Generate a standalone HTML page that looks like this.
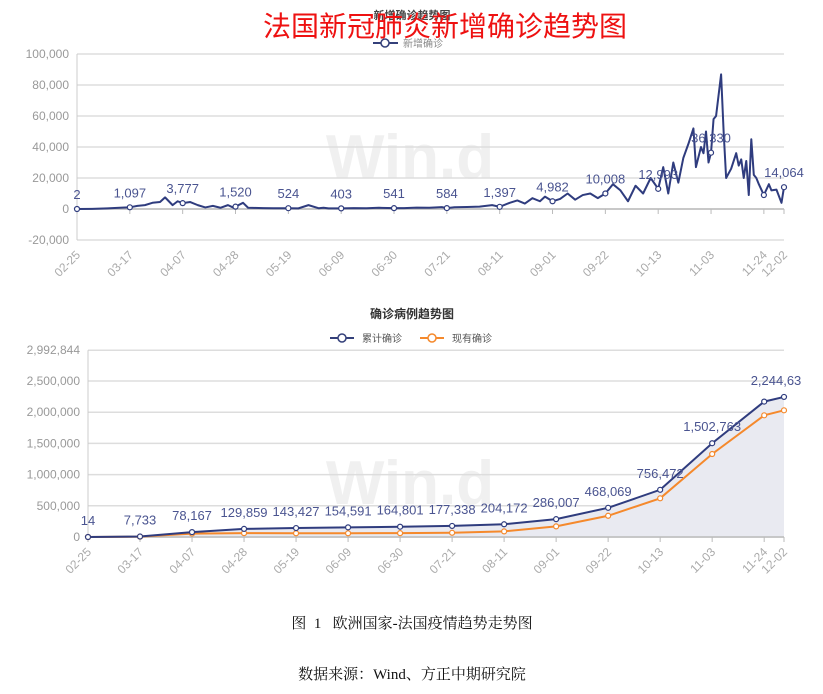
<!DOCTYPE html>
<html><head><meta charset="utf-8"><style>
body{margin:0;background:#fff;}
svg{display:block;font-family:"Liberation Sans","Noto Sans CJK SC",sans-serif;}
</style></head><body>
<svg id="s" width="823" height="694" viewBox="0 0 823 694">
<text x="412" y="19" text-anchor="middle" font-size="11" font-weight="bold" fill="#444">新增确诊趋势图</text>
<text x="445" y="36" text-anchor="middle" font-size="28" fill="#ee1111">法国新冠肺炎新增确诊趋势图</text>
<g><line x1="373" y1="43" x2="398" y2="43" stroke="#34407a" stroke-width="2"/><circle cx="385" cy="43" r="4" fill="#fff" stroke="#34407a" stroke-width="1.5"/><text x="403" y="47" font-size="10" fill="#888">新增确诊</text></g>
<text x="410" y="178" text-anchor="middle" font-size="62" font-weight="bold" fill="#f0f0f0">Win.d</text>
<text x="410" y="504" text-anchor="middle" font-size="62" font-weight="bold" fill="#f0f0f0">Win.d</text>
<g id="topg"></g>
<text x="412" y="318" text-anchor="middle" font-size="12" font-weight="bold" fill="#333">确诊病例趋势图</text>
<g><line x1="330" y1="338" x2="354" y2="338" stroke="#34407a" stroke-width="2"/><circle cx="342" cy="338" r="4" fill="#fff" stroke="#34407a" stroke-width="1.5"/><text x="362" y="342" font-size="10" fill="#555">累计确诊</text></g>
<g><line x1="420" y1="338" x2="444" y2="338" stroke="#f5892c" stroke-width="2"/><circle cx="432" cy="338" r="4" fill="#fff" stroke="#f5892c" stroke-width="1.5"/><text x="452" y="342" font-size="10" fill="#555">现有确诊</text></g>
<g id="botg"></g>
<text x="412" y="628" text-anchor="middle" font-size="15" style="white-space:pre" font-family="Liberation Serif,'Noto Serif CJK SC',serif" fill="#111">图  1   欧洲国家-法国疫情趋势走势图</text>
<text x="412" y="679" text-anchor="middle" font-size="15" font-family="Liberation Serif,'Noto Serif CJK SC',serif" fill="#111">数据来源：Wind、方正中期研究院</text>
</svg>
<script>
const tickLabels=["02-25","03-17","04-07","04-28","05-19","06-09","06-30","07-21","08-11","09-01","09-22","10-13","11-03","11-24","12-02"];
const tickDays=[0,21,42,63,84,105,126,147,168,189,210,231,252,273,281];
const newDays=[0,6,12,18,21,24,27,30,33,35,38,40,42,45,48,51,54,57,60,62,63,66,68,70,74,78,84,88,92,96,98,100,105,110,115,120,126,130,135,140,145,147,150,155,160,165,168,172,175,178,181,184,186,189,192,195,198,201,204,207,210,213,216,219,222,225,228,231,233,235,237,239,241,243,245,246,248,249,250,251,252,253,254,256,257,258,260,262,263,264,265,266,267,268,269,270,271,273,275,276,278,280,281];
const newVals=[2,100,400,900,1097,2000,2500,4000,4500,7500,2500,5000,3777,4500,2500,1000,2000,800,2500,1000,1520,4000,800,700,600,500,524,400,2500,500,800,400,403,600,500,800,541,600,900,800,1200,584,1100,1300,1500,2500,1397,4000,5500,3500,7000,5000,8000,4982,6500,10000,6000,9000,10000,7000,10008,16000,12000,5000,15000,10000,20000,12993,27000,10000,30000,17000,33000,42000,52000,27000,40000,36000,50000,30000,36330,58000,60000,86852,50000,20000,26000,36000,28000,32000,20000,31000,9000,45000,22000,20000,16000,9000,16000,12000,12500,4000,14064];
const cumVals=[14,7733,78167,129859,143427,154591,164801,177338,204172,286007,468069,756472,1502763,2170000,2244635];
const cumLabels=["14","7,733","78,167","129,859","143,427","154,591","164,801","177,338","204,172","286,007","468,069","756,472","1,502,763","","2,244,63"];
const actVals=[12,6000,55000,62000,60000,60000,62000,68000,90000,170000,340000,620000,1330000,1950000,2030000];
const topYTicks=[100000,80000,60000,40000,20000,0,-20000];
const botYTicks=[2992844,2500000,2000000,1500000,1000000,500000,0];
const NS="http://www.w3.org/2000/svg";
function mk(p,t,a){const e=document.createElementNS(NS,t);for(const k in a)e.setAttribute(k,a[k]);p.appendChild(e);return e;}
function fmt(v){return v.toLocaleString("en-US");}
const tX0=77,tX1=784;
const tx=d=>tX0+(tX1-tX0)*d/281;
const ty=v=>209-v*31/20000;
const gTop=document.getElementById('topg');
topYTicks.forEach(v=>{
 const l=mk(gTop,'line',{x1:tX0,x2:tX1,y1:ty(v),y2:ty(v),stroke:'#ddd','stroke-width':1.5});
 
 
 const t=mk(gTop,'text',{x:tX0-8,y:ty(v)+4,'text-anchor':'end','font-size':12,fill:'#999'});t.textContent=fmt(v);
 
 
});
mk(gTop,'line',{x1:tX0,x2:tX0,y1:ty(100000),y2:ty(-20000),stroke:'#ccc'});
mk(gTop,'line',{x1:tX0,x2:tX1,y1:ty(0),y2:ty(0),stroke:'#bbb','stroke-width':1.5});
tickDays.forEach((d,i)=>{
 mk(gTop,'line',{x1:tx(d),x2:tx(d),y1:ty(0),y2:ty(0)+5,stroke:'#bbb'});
 const t=mk(gTop,'text',{x:tx(d),y:ty(-20000)+14,'text-anchor':'end','font-size':12,fill:'#aaa',transform:`rotate(-45 ${tx(d)+4} ${ty(-20000)+10})`});
 t.textContent=tickLabels[i];
 
 
});
const tl=mk(gTop,'polyline',{points:newDays.map((d,i)=>tx(d)+','+ty(newVals[i])).join(' '),fill:'none',stroke:'#2f3c7e','stroke-width':2,'stroke-linejoin':'round'});


tickDays.forEach(d=>{
 const k=newDays.indexOf(d);if(k<0)return;
 const v=newVals[k];
 const c=mk(gTop,'circle',{cx:tx(d),cy:ty(v),r:2.5,fill:'#fff',stroke:'#2f3c7e','stroke-width':1.2});
 
 
 if(d===273)return;
 const t=mk(gTop,'text',{x:tx(d),y:ty(v)-10,'text-anchor':'middle','font-size':13,fill:'#4a5490'});t.textContent=fmt(v);
 
 
});
const bX0=88,bX1=784;
const bx=d=>bX0+(bX1-bX0)*d/281;
const by=v=>537-v*31.2/500000;
const gBot=document.getElementById('botg');
botYTicks.forEach(v=>{
 const l=mk(gBot,'line',{x1:bX0,x2:bX1,y1:by(v),y2:by(v),stroke:'#ddd','stroke-width':1.5});
 
 
 const t=mk(gBot,'text',{x:bX0-8,y:by(v)+4,'text-anchor':'end','font-size':12,fill:'#999'});t.textContent=fmt(v);
 
 
});
const cp=tickDays.map((d,i)=>bx(d)+','+by(cumVals[i])).join(' ');
const ar=mk(gBot,'polygon',{points:bx(0)+','+by(0)+' '+cp+' '+bx(281)+','+by(0),fill:'#e9eaf1'});


mk(gBot,'line',{x1:bX0,x2:bX0,y1:by(2992844),y2:by(0),stroke:'#ccc'});
mk(gBot,'line',{x1:bX0,x2:bX1,y1:by(0),y2:by(0),stroke:'#bbb','stroke-width':1.5});
tickDays.forEach((d,i)=>{
 mk(gBot,'line',{x1:bx(d),x2:bx(d),y1:by(0),y2:by(0)+5,stroke:'#bbb'});
 const t=mk(gBot,'text',{x:bx(d),y:by(0)+14,'text-anchor':'end','font-size':12,fill:'#aaa',transform:`rotate(-45 ${bx(d)+4} ${by(0)+10})`});
 t.textContent=tickLabels[i];
 
 
});
const al=mk(gBot,'polyline',{points:tickDays.map((d,i)=>bx(d)+','+by(actVals[i])).join(' '),fill:'none',stroke:'#f5892c','stroke-width':2});


const cl=mk(gBot,'polyline',{points:cp,fill:'none',stroke:'#2f3c7e','stroke-width':2});


tickDays.forEach((d,i)=>{
 const a=mk(gBot,'circle',{cx:bx(d),cy:by(actVals[i]),r:2.5,fill:'#fff',stroke:'#f5892c','stroke-width':1.2});
 
 
 const c=mk(gBot,'circle',{cx:bx(d),cy:by(cumVals[i]),r:2.5,fill:'#fff',stroke:'#2f3c7e','stroke-width':1.2});
 
 
 if(!cumLabels[i])return;
 const t=mk(gBot,'text',{x:d===281?bx(d)-8:bx(d),y:by(cumVals[i])-12,'text-anchor':'middle','font-size':13,fill:'#4a5490'});t.textContent=cumLabels[i];
 
 
});
</script>
</body></html>
